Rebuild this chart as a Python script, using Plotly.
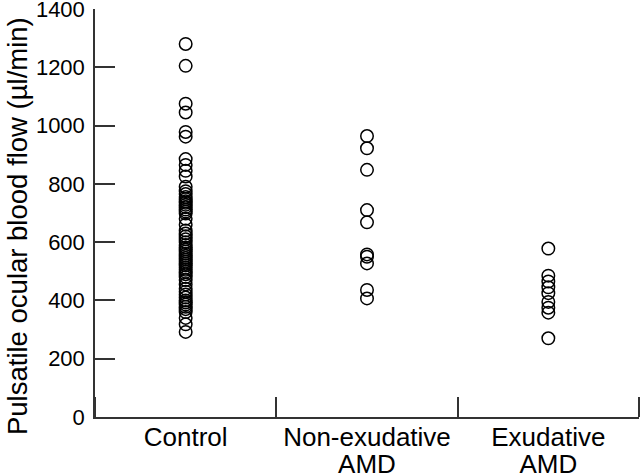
import plotly.graph_objects as go

categories = ["Control", "Non-exudative", "Exudative"]
categories_line2 = ["", "AMD", "AMD"]
y_title = "Pulsatile ocular blood flow (µl/min)"
control = [1280, 1205, 1075, 1045, 978, 962, 885, 865, 845, 825, 790, 775, 765,
           755, 748, 740, 735, 728, 720, 712, 705, 698, 680, 660, 640, 630, 620,
           610, 600, 590, 582, 575, 568, 560, 553, 546, 540, 533, 526, 520, 512,
           505, 498, 490, 480, 470, 455, 440, 430, 420, 410, 400, 393, 386, 378,
           370, 360, 340, 318, 292]
non_exudative = [964, 922, 848, 710, 668, 558, 550, 527, 436, 407]
exudative = [578, 485, 465, 445, 425, 395, 375, 358, 270]
y_ticks = [0, 200, 400, 600, 800, 1000, 1200, 1400]

groups = [control, non_exudative, exudative]
centers = [0.5, 1.5, 2.5]

fig = go.Figure()
for c, vals in zip(centers, groups):
    fig.add_trace(go.Scatter(
        x=[c] * len(vals), y=vals, mode="markers",
        marker=dict(symbol="circle-open", size=12.5, color="black",
                    line=dict(width=1.5, color="black")),
        showlegend=False, hoverinfo="y", cliponaxis=False))
# invisible trace so the second-line label axis is drawn
fig.add_trace(go.Scatter(x=[centers[0]], y=[None], xaxis="x2", mode="markers",
                         showlegend=False, hoverinfo="skip"))

font = "Liberation Sans, Arial, sans-serif"
fig.update_layout(
    width=640, height=476,
    margin=dict(l=95, r=1, t=9, b=59, autoexpand=False),
    paper_bgcolor="white", plot_bgcolor="white",
    font=dict(family=font, color="black"),
    xaxis=dict(
        range=[0, 3], showgrid=False, zeroline=False, automargin=False,
        showline=True, linecolor="#333", linewidth=1.5,
        tickvals=centers, ticktext=categories, ticks="",
        ticklabelstandoff=-4,
        tickfont=dict(size=26, family=font, color="black"),
        minor=dict(tickmode="array", tickvals=[0, 1, 2, 3], ticks="inside",
                   ticklen=20, tickwidth=1.5, tickcolor="#333", showgrid=False),
    ),
    xaxis2=dict(
        range=[0, 3], overlaying="x", anchor="y", side="bottom",
        showgrid=False, zeroline=False, automargin=False, showline=False,
        tickvals=centers, ticktext=categories_line2, ticks="",
        ticklabelstandoff=29,
        tickfont=dict(size=26, family=font, color="black"),
    ),
    yaxis=dict(
        range=[0, 1400], showgrid=False, zeroline=False, automargin=False,
        showline=True, linecolor="#333", linewidth=1.5,
        tickvals=y_ticks, ticks="inside", ticklen=20, tickwidth=1.5,
        tickcolor="#333", ticklabeloverflow="allow", ticklabelstandoff=4,
        tickfont=dict(size=22, family=font, color="black"),
    ),
    annotations=[dict(
        text=y_title, textangle=-90, showarrow=False,
        xref="paper", yref="paper", x=-0.1434, y=0.468,
        xanchor="center", yanchor="middle",
        font=dict(size=27.5, family=font, color="black"))],
)

fig.write_html("out.html", config={"displayModeBar": False},
               post_script="document.body.style.margin='0';")
